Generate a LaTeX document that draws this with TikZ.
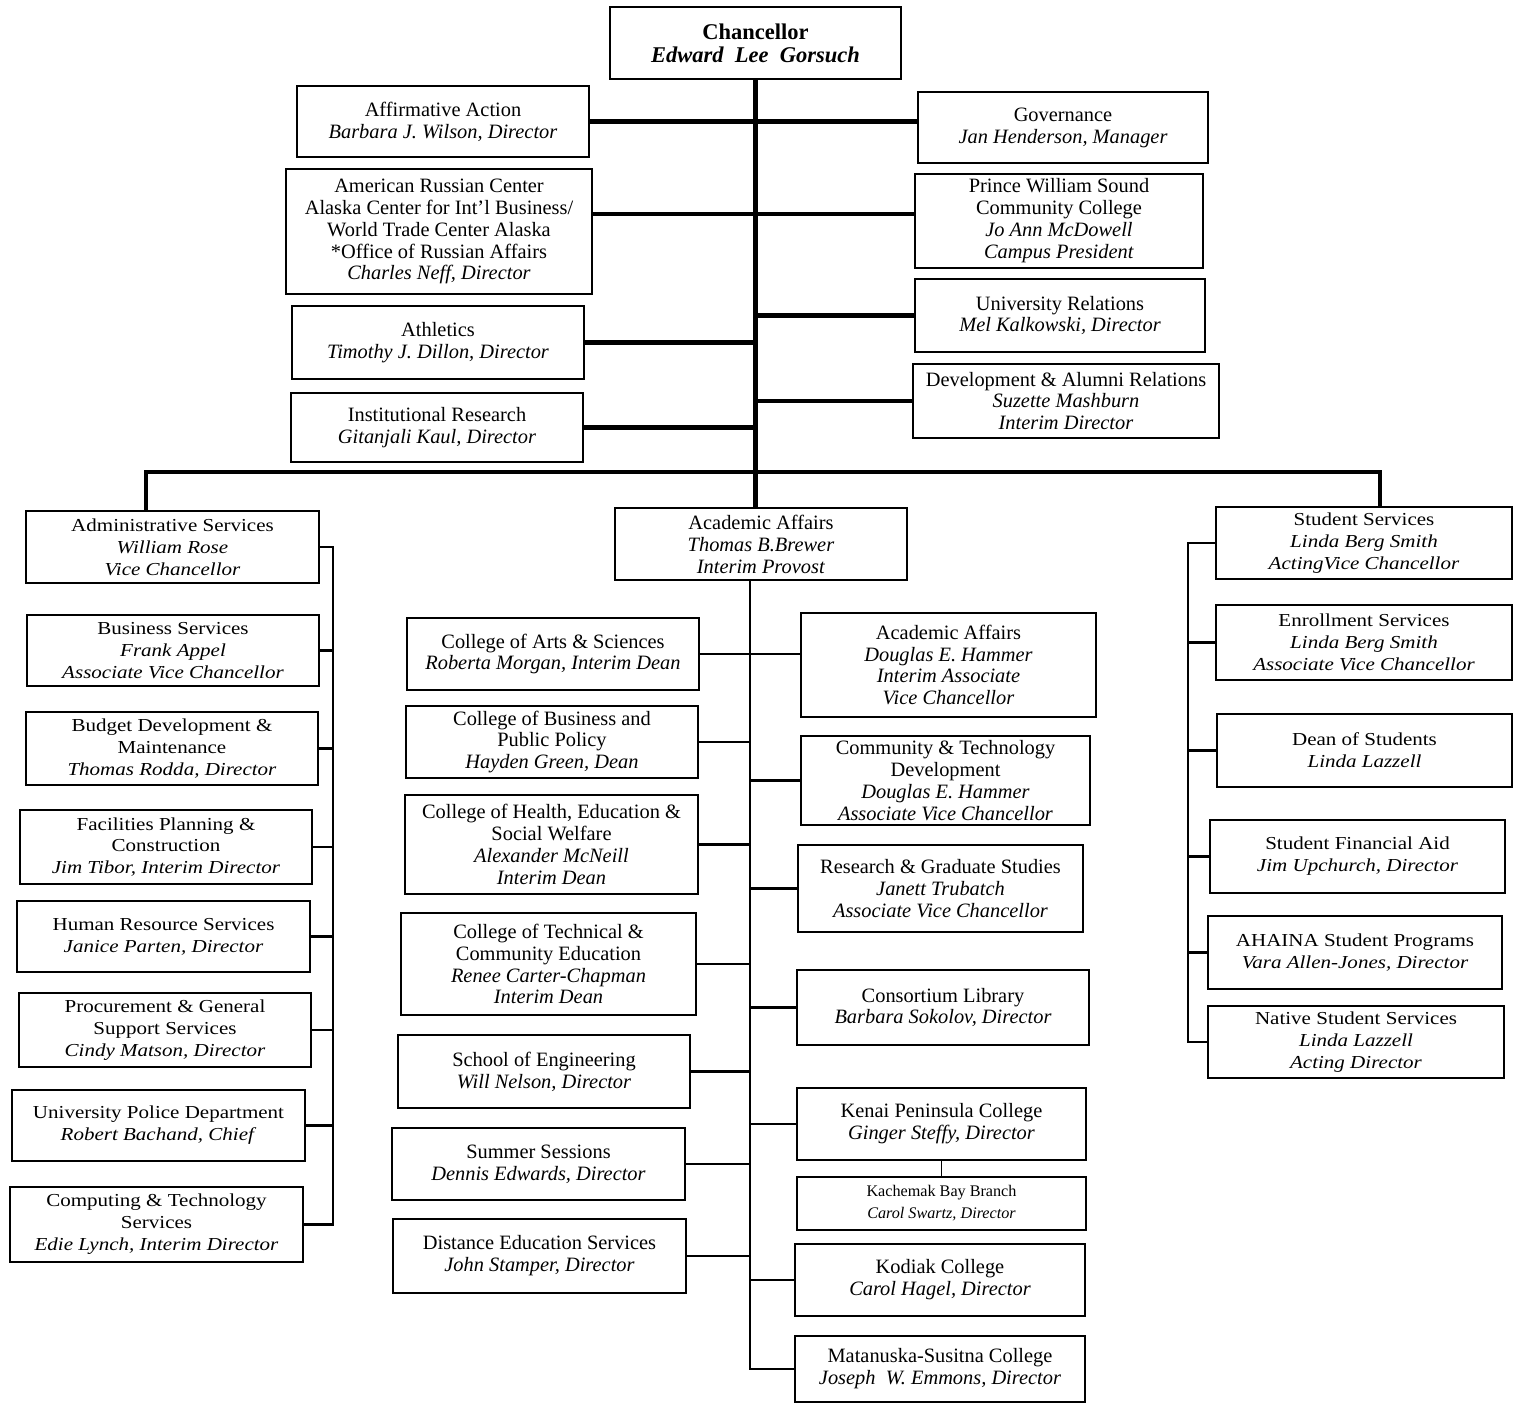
\documentclass[tikz,border=0pt]{standalone}
\usepackage{fontspec}
\setmainfont{Liberation Serif}
\newfontfamily\widefont[FakeStretch=1.15]{Liberation Serif}
\usetikzlibrary{positioning}
\newcommand\midsize{\fontsize{14.5pt}{15.6pt}\selectfont}
\newcommand\widesize{\widefont\fontsize{13pt}{15.6pt}\selectfont}
\newcommand\smallsize{\fontsize{11.5pt}{15.6pt}\selectfont}
\newcommand\topsize{\fontsize{16pt}{16.5pt}\selectfont}

\begin{document}
\begin{tikzpicture}[
  x=0.025cm, y=-0.025cm,
  box/.style={draw,line width=1.3pt,align=center,inner sep=1pt,font=\midsize},
  widebox/.style={box,font=\widesize},
  sz/.style 2 args={minimum width=#1*0.025cm,minimum height=#2*0.025cm},
  trunkline/.style={line width=3.5pt},
  branch/.style={line width=1.6pt}
]
\useasboundingbox (0,0) rectangle (1518,1404);
% chancellor and staff offices
\node[box,sz={291}{72},font=\topsize] (chan) at (755.5,43) {\textbf{Chancellor}\\\textbf{\textit{Edward\ \ Lee\ \ Gorsuch}}};
\node[box,sz={292}{71}] (affirm) at (443,121.5) {Affirmative Action\\\textit{Barbara J. Wilson, Director}};
\node[box,sz={290}{71}] (gov) at (1063,127.5) {Governance\\\textit{Jan Henderson, Manager}};
\node[box,sz={306}{125}] (arc) at (439,231.5) {American Russian Center\\Alaska Center for Int'l Business/\\World Trade Center Alaska\\*Office of Russian Affairs\\\textit{Charles Neff, Director}};
\node[box,sz={288}{94}] (pws) at (1059,221) {Prince William Sound\\Community College\\\textit{Jo Ann McDowell}\\\textit{Campus President}};
\node[box,sz={292}{73}] (ath) at (438,342.5) {Athletics\\\textit{Timothy J. Dillon, Director}};
\node[box,sz={290}{73}] (ur) at (1060,315.5) {University Relations\\\textit{Mel Kalkowski, Director}};
\node[box,sz={306}{74}] (dev) at (1066,401) {Development \& Alumni Relations\\\textit{Suzette Mashburn}\\\textit{Interim Director}};
\node[box,sz={292}{69}] (ir) at (437,427.5) {Institutional Research\\\textit{Gitanjali Kaul, Director}};
% administrative services
\node[widebox,sz={293}{72}] (admin) at (172.5,547) {Administrative Services\\\textit{William Rose}\\\textit{Vice Chancellor}};
\node[widebox,sz={292}{71}] (bus) at (173,650.5) {Business Services\\\textit{Frank Appel}\\\textit{Associate Vice Chancellor}};
\node[widebox,sz={292}{73}] (budget) at (172,748.5) {Budget Development \&\\Maintenance\\\textit{Thomas Rodda, Director}};
\node[widebox,sz={292}{74}] (fac) at (166,847) {Facilities Planning \&\\Construction\\\textit{Jim Tibor, Interim Director}};
\node[widebox,sz={293}{71}] (hr) at (163.5,936.5) {Human Resource Services\\\textit{Janice Parten, Director}};
\node[widebox,sz={292}{74}] (proc) at (165,1030) {Procurement \& General\\Support Services\\\textit{Cindy Matson, Director}};
\node[widebox,sz={293}{71}] (police) at (158.5,1125.5) {University Police Department\\\textit{Robert Bachand, Chief}};
\node[widebox,sz={293}{75}] (comp) at (156.5,1224.5) {Computing \& Technology\\Services\\\textit{Edie Lynch, Interim Director}};
% academic affairs
\node[box,sz={292}{72}] (acad) at (761,544) {Academic Affairs\\\textit{Thomas B.Brewer}\\\textit{Interim Provost}};
\node[box,sz={292}{72}] (cas) at (553,654) {College of Arts \& Sciences\\\textit{Roberta Morgan, Interim Dean}};
\node[box,sz={295}{104}] (aavc) at (948.5,665) {Academic Affairs\\\textit{Douglas E. Hammer}\\\textit{Interim Associate}\\\textit{Vice Chancellor}};
\node[box,sz={292}{72}] (cbpp) at (552,742) {College of Business and\\Public Policy\\\textit{Hayden Green, Dean}};
\node[box,sz={289}{89}] (ctd) at (945.5,780.5) {Community \& Technology\\Development\\\textit{Douglas E. Hammer}\\\textit{Associate Vice Chancellor}};
\node[box,sz={293}{99}] (chesw) at (551.5,844.5) {College of Health, Education \&\\Social Welfare\\\textit{Alexander McNeill}\\\textit{Interim Dean}};
\node[box,sz={285}{87}] (rgs) at (940.5,888.5) {Research \& Graduate Studies\\\textit{Janett Trubatch}\\\textit{Associate Vice Chancellor}};
\node[box,sz={295}{102}] (ctce) at (548.5,964) {College of Technical \&\\Community Education\\\textit{Renee Carter-Chapman}\\\textit{Interim Dean}};
\node[box,sz={292}{75}] (lib) at (943,1007.5) {Consortium Library\\\textit{Barbara Sokolov, Director}};
\node[box,sz={292}{73}] (eng) at (544,1071.5) {School of Engineering\\\textit{Will Nelson, Director}};
\node[box,sz={289}{72}] (kenai) at (941.5,1124) {Kenai Peninsula College\\\textit{Ginger Steffy, Director}};
\node[box,sz={289}{53},font=\smallsize] (kach) at (941.5,1203.5) {Kachemak Bay Branch\\\textit{Carol Swartz, Director}};
\node[box,sz={293}{72}] (summer) at (538.5,1164) {Summer Sessions\\\textit{Dennis Edwards, Director}};
\node[box,sz={293}{74}] (dist) at (539.5,1256) {Distance Education Services\\\textit{John Stamper, Director}};
\node[box,sz={290}{72}] (kodiak) at (940,1280) {Kodiak College\\\textit{Carol Hagel, Director}};
\node[box,sz={290}{66}] (matsu) at (940,1369) {Matanuska-Susitna College\\\textit{Joseph\ \ W. Emmons, Director}};
% student services
\node[widebox,sz={296}{72}] (stud) at (1364,543) {Student Services\\\textit{Linda Berg Smith}\\\textit{ActingVice Chancellor}};
\node[widebox,sz={296}{75}] (enr) at (1364,642.5) {Enrollment Services\\\textit{Linda Berg Smith}\\\textit{Associate Vice Chancellor}};
\node[widebox,sz={295}{73}] (dean) at (1364.5,750.5) {Dean of Students\\\textit{Linda Lazzell}};
\node[widebox,sz={295}{73}] (sfa) at (1357.5,856.5) {Student Financial Aid\\\textit{Jim Upchurch, Director}};
\node[widebox,sz={294}{73}] (ahaina) at (1355,952.5) {AHAINA Student Programs\\\textit{Vara Allen-Jones, Director}};
\node[widebox,sz={296}{72}] (native) at (1356,1042) {Native Student Services\\\textit{Linda Lazzell}\\\textit{Acting Director}};
% bus lines
\coordinate (lbar) at (146,472);
\coordinate (rbar) at (1380,472);
\coordinate (abus) at (333,548);
\coordinate (atrunk) at (750,580);
\coordinate (sbus) at (1188,540);
% top connectors
\draw[line width=3pt] (chan.south) -- (chan.south |- acad.north);
\draw[line width=3pt] (lbar |- admin.north) -- (lbar) -- (rbar) -- (rbar |- stud.north);
\path (affirm.east) edge[trunkline] (affirm.east -| gov.west)
([yshift=0.175cm]pws.west) edge[trunkline] ([yshift=0.175cm]pws.west -| arc.east)
(ath.east) edge[trunkline] (ath.east -| chan.south)
(ur.west) edge[trunkline] (ur.west -| chan.south)
(dev.west) edge[trunkline] (dev.west -| chan.south)
(ir.east) edge[trunkline] (ir.east -| chan.south);
% administrative connectors
\draw[branch] (admin.east) -| (abus) -- (abus |- comp.east) -- (comp.east);
\foreach \n in {bus,budget,fac,hr,proc,police}
  \draw[branch] (\n.east) -- (\n.east -| abus);
% academic connectors
\draw[branch] (atrunk) -- (atrunk |- matsu.west) -- (matsu.west);
\draw[branch] (cas.east) -- (cas.east -| aavc.west);
\foreach \n in {cbpp,chesw,ctce,eng,summer,dist}
  \draw[branch] (\n.east) -- (\n.east -| atrunk);
\foreach \n in {ctd,rgs,lib,kenai,kodiak}
  \draw[branch] (\n.west) -- (\n.west -| atrunk);
\draw[line width=1pt] (kenai.south) -- (kach.north);
% student connectors
\draw[branch] (stud.west) -- (stud.west -| sbus) -- (sbus |- native.west) -- (native.west);
\foreach \n in {enr,dean,sfa,ahaina}
  \draw[branch] (\n.west) -- (\n.west -| sbus);
\end{tikzpicture}
\end{document}
